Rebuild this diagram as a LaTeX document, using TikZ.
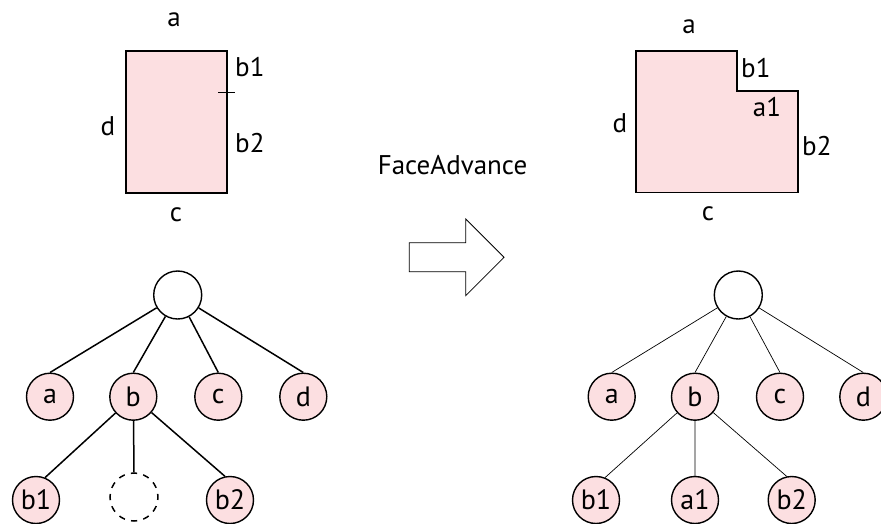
\documentclass[tikz,border=0pt]{standalone}
\usepackage{fontspec}
\setmainfont{PT Sans}
\usetikzlibrary{arrows.meta}
\definecolor{facepink}{RGB}{252,223,225}
\tikzset{
  lbl/.style={inner sep=0pt, anchor=base, font=\fontsize{27}{32}\selectfont},
  lblw/.style={lbl, anchor=base west},
  face/.style={draw=black, fill=facepink, line width=1.6pt, line join=miter},
  tnode/.style={circle, draw=black, fill=facepink, line width=1.4pt, minimum size=47pt, inner sep=0pt, font=\fontsize{28}{32}\selectfont},
  troot/.style={tnode, fill=white, minimum size=48pt},
  ghost/.style={circle, draw=black, line width=1.5pt, minimum size=48pt, inner sep=0pt,
    dash pattern=on 6.28pt off 6.28pt, dash phase=3.14pt},
  edgeL/.style={draw=black, line width=1.5pt},
  edgeR/.style={draw=black, line width=0.7pt},
}
\begin{document}
\begin{tikzpicture}[x=1pt,y=-1pt]
\useasboundingbox (0,0) rectangle (881,523);

% ---- face before the advance
\draw[face] (126,50.7) rectangle (226.7,193);
\coordinate (tickL) at (218,92.7);
\coordinate (tickR) at (235,92.7);
\draw[line width=1.4pt] (tickL) -- (tickR);
\node[lbl]  (la)  at (174,26)    {a};
\node[lblw] (lb1) at (235,76)    {b1};
\node[lblw] (lb2) at (235,152.7) {b2};
\node[lbl]  (ld)  at (108,135)   {d};
\node[lbl]  (lc)  at (176,221.7) {c};

% ---- face after the advance
\draw[face] (635.7,50.7) -- (736.7,50.7) -- (736.7,90.7) -- (797.7,90.7)
  -- (797.7,192.3) -- (635.7,192.3) -- cycle;
\node[lbl]  (ra)  at (689,33.3)  {a};
\node[lblw] (rb1) at (741,77.3)  {b1};
\node[lbl]  (ra1) at (767,116.7) {a1};
\node[lbl]  (rd)  at (620,132)   {d};
\node[lblw] (rb2) at (802,155)   {b2};
\node[lbl]  (rc)  at (708,220.7) {c};

% ---- operation
\node[lbl] (op) at (452.5,174) {FaceAdvance};
\draw[line width=0.8pt, line join=miter] (409.3,242.7) -- (465.7,242.7) -- (465.7,219)
  -- (504,257.3) -- (465.7,295.7) -- (465.7,271.7) -- (409.3,271.7) -- cycle;

% ---- tree before
\node[troot] (L)   at (177.7,295) {};
\node[tnode] (La)  at (50,396.7)  {a};
\node[tnode] (Lb)  at (133.3,396.7) {b};
\node[tnode] (Lc)  at (218.3,396.7) {c};
\node[tnode] (Ld)  at (303.3,396.7) {d};
\node[tnode] (Lb1) at (36,500)    {b1};
\node[ghost] (Lx)  at (134,497)   {};
\node[tnode] (Lb2) at (230,500)   {b2};
\path[edgeL] (L) -- (La.north) (L) -- (Lb.north) (L) -- (Lc.north) (L) -- (Ld.north)
  (Lb) -- (Lb1.68) (Lb) -- (Lx.north) (Lb) -- (Lb2.102);

% ---- tree after
\node[troot] (R)   at (738.3,295) {};
\node[tnode] (Ra)  at (611.7,396.7) {a};
\node[tnode] (Rb)  at (695,396.7)   {b};
\node[tnode] (Rc)  at (780,396.7)   {c};
\node[tnode] (Rd)  at (863.3,396.7) {d};
\node[tnode] (Rb1) at (596,500)     {b1};
\node[tnode] (Ra1) at (695,500)     {a1};
\node[tnode] (Rb2) at (791.7,500)   {b2};
\path[edgeR] (R) -- (Ra.north) (R) -- (Rb.north) (R) -- (Rc.north) (R) -- (Rd.north)
  (Rb) -- (Rb1.68) (Rb) -- (Ra1.north) (Rb) -- (Rb2.102);
\end{tikzpicture}
\end{document}
